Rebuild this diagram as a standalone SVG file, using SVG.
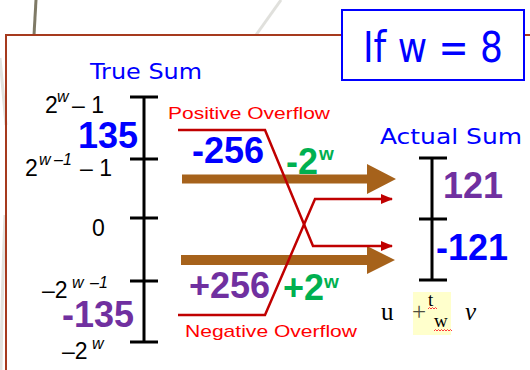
<svg xmlns="http://www.w3.org/2000/svg" width="530" height="370" viewBox="0 0 530 370">
<defs>
<style>
.gothic{font-family:"DejaVu Sans","Liberation Sans",sans-serif;fill:#0000ff}
.lbl{font-family:"Liberation Sans","Open Sans",sans-serif;fill:#000;font-size:23px}
.sup{font-family:"Liberation Sans",sans-serif;font-style:italic;font-size:16px;fill:#000}
.big{font-family:"Liberation Sans",sans-serif;font-weight:bold;font-size:36px}
.red{font-family:"Liberation Sans","Open Sans",sans-serif;fill:#ff0000;font-size:17px}
.axis{stroke:#000;stroke-width:3;fill:none}
.ovf{stroke:#c00000;stroke-width:2.5;fill:none;stroke-linejoin:miter}
.brown{fill:#a6621b}
.serif{font-family:"Liberation Serif","DejaVu Serif",serif;fill:#000}
.sq{stroke:#ff3b3b;stroke-width:1;fill:none}
</style>
<marker id="ah" viewBox="0 0 12 10" refX="11" refY="5" markerWidth="12" markerHeight="10" orient="auto" markerUnits="userSpaceOnUse">
<path d="M0,0 L12,5 L0,10 z" fill="#c00000"/>
</marker>
</defs>
<rect width="530" height="370" fill="#ffffff"/>
<g id="background">
<line x1="36" y1="0" x2="34" y2="35" stroke="#7f7a66" stroke-width="3"/>
<line x1="281" y1="0" x2="256" y2="35" stroke="#e0e0dc" stroke-width="3"/>
<path d="M0,58 L6,125" stroke="#e2e2de" stroke-width="3" fill="none"/>
<path d="M5,215 Q2,290 1,370" stroke="#e2e2de" stroke-width="3" fill="none"/>
</g>
<g id="frame">
<path d="M6,370 L6,35 L530,35" stroke="#a63a1e" stroke-width="2" fill="none"/>
</g>
<g id="title-box">
<rect x="342" y="10" width="182" height="70" fill="#ffffff" stroke="#0000ff" stroke-width="2"/>
<text class="gothic" x="363" y="62" font-size="43" textLength="140" lengthAdjust="spacingAndGlyphs">If w = 8</text>
</g>
<g id="true-sum">
<text class="gothic" x="90" y="79" font-size="22" textLength="112" lengthAdjust="spacingAndGlyphs">True Sum</text>
<path class="axis" d="M144,97 L144,342 M130,97 L158,97 M130,159 L158,159 M130,218 L158,218 M130,281 L158,281 M130,342 L158,342"/>
<text class="lbl" x="45" y="113">2</text><text class="sup" x="57" y="102">w</text><text class="lbl" x="72" y="113">– 1</text>
<text class="big" x="78" y="148" fill="#0000ff">135</text>
<text class="lbl" x="25" y="176">2</text><text class="sup" x="39" y="165">w</text><text class="sup" x="54" y="165" font-style="normal">–1</text><text class="lbl" x="80" y="176">– 1</text>
<text class="lbl" x="92" y="236">0</text>
<text class="lbl" x="42" y="298">–2</text><text class="sup" x="72" y="288">w</text><text class="sup" x="90" y="288" font-style="normal">–1</text>
<text class="big" x="62" y="327" fill="#7030a0">-135</text>
<text class="lbl" x="62" y="359">–2</text><text class="sup" x="92" y="349">w</text>
</g>
<g id="actual-sum">
<text class="gothic" x="380" y="144" font-size="22" textLength="142" lengthAdjust="spacingAndGlyphs">Actual Sum</text>
<path class="axis" d="M432,158 L432,280 M419,158 L447,158 M419,219 L447,219 M419,280 L447,280"/>
<text class="big" x="443" y="198" fill="#7030a0">121</text>
<text class="big" x="436" y="260" fill="#0000ff">-121</text>
</g>
<g id="connectors">
<polygon class="brown" points="182,174.5 367,174.5 367,164 396,179 367,194 367,183.5 182,183.5"/>
<polygon class="brown" points="181,255 367,255 367,246 395,260 367,274 367,265 181,265"/>
<polyline class="ovf" points="178,130 265,130 313,246 392,246" marker-end="url(#ah)"/>
<polyline class="ovf" points="178,315 265,315 315,199 392,199" marker-end="url(#ah)"/>
</g>
<g id="overflow-labels">
<text class="red" x="168" y="119" textLength="162" lengthAdjust="spacingAndGlyphs">Positive Overflow</text>
<text class="red" x="185" y="337" textLength="172" lengthAdjust="spacingAndGlyphs">Negative Overflow</text>
<text class="big" x="192" y="163" fill="#0000ff">-256</text>
<text class="big" x="286" y="174" fill="#00b050">-2</text>
<text x="319" y="160" font-family="Liberation Sans,sans-serif" font-weight="bold" font-size="19" fill="#00b050">w</text>
<text class="big" x="189" y="298" fill="#7030a0">+256</text>
<text class="big" x="283" y="300" fill="#00b050">+2</text>
<text x="324" y="288" font-family="Liberation Sans,sans-serif" font-weight="bold" font-size="19" fill="#00b050">w</text>
</g>
<g id="formula">
<rect x="413" y="292" width="38" height="43" fill="#ffffcc"/>
<text class="serif" x="381" y="320" font-size="25">u</text>
<text class="serif" x="412" y="320" font-size="25" style="fill:#4d4d40">+</text>
<text class="serif" x="428" y="306" font-size="19">t</text>
<text class="serif" x="434" y="327" font-size="19">w</text>
<path class="sq" d="M428,309 l1.5,-1.5 l1.5,1.5 l1.5,-1.5 l1.5,1.5 l1.5,-1.5 l1.5,1.5"/>
<path class="sq" d="M434,331 l1.5,-1.5 l1.5,1.5 l1.5,-1.5 l1.5,1.5 l1.5,-1.5 l1.5,1.5 l1.5,-1.5 l1.5,1.5 l1.5,-1.5 l1.5,1.5 l1.5,-1.5 l1.5,1.5"/>
<text class="serif" x="465" y="320" font-size="25" font-style="italic">v</text>
</g>
</svg>
